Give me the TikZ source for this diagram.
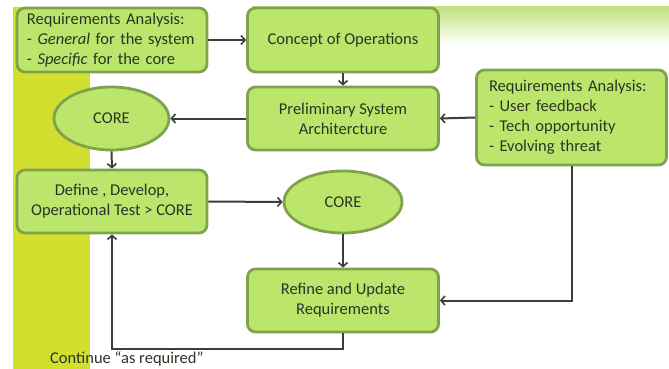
\documentclass[tikz,border=0pt]{standalone}
\usepackage{fontspec}
\setmainfont{Carlito}
\usetikzlibrary{shapes.geometric,arrows.meta}
\definecolor{boxfill}{HTML}{BCE56B}
\definecolor{boxline}{HTML}{7FA24C}
\definecolor{barcol}{HTML}{D3DF2F}
\definecolor{bandcol}{HTML}{C2E27F}
\definecolor{txtcol}{HTML}{2B3526}
\definecolor{arrcol}{HTML}{3A3F38}
\tikzset{
  txtfont/.style={font=\fontsize{16.5}{20}\selectfont},
  box/.style={draw=boxline, line width=2.8pt, fill=boxfill, rounded corners=8pt,
    minimum width=190pt, minimum height=63pt, inner sep=0pt, align=center,
    text=txtcol, txtfont},
  listbox/.style={box, align=left, inner xsep=10pt},
  coreell/.style={ellipse, draw=boxline, line width=2.8pt, fill=boxfill,
    inner sep=0pt, text=txtcol, txtfont},
  conn/.style={draw=arrcol, line width=2pt, -{Straight Barb[length=4pt,width=9pt,line width=1.6pt]}}
}
\begin{document}
\begin{tikzpicture}[x=1pt,y=-1pt]
\useasboundingbox (0,0) rectangle (669,369);
\fill[white] (0,0) rectangle (669,369);
\shade[top color=bandcol, bottom color=white] (252,7) rectangle (669,45);
\fill[barcol] (13,7) rectangle (90,369);

\node[listbox, text width=170pt, minimum height=64pt] (ra1) at (112,40)
  {Requirements Analysis:\\- \textit{General} for the system\\- \textit{Specific} for the core};
\node[box, minimum width=191pt, minimum height=64pt] (conops) at (343,40) {Concept of Operations};
\node[box, minimum width=191pt] (prelim) at (343,118.5) {Preliminary System\\Architercture};
\node[listbox, text width=165pt, minimum height=95pt] (ra2) at (571.5,117.5)
  {Requirements Analysis:\\- User feedback\\- Tech opportunity\\- Evolving threat};
\node[coreell, minimum width=115pt, minimum height=63pt] (core1) at (111.5,118.5) {CORE};
\node[box] (define) at (112,201.5) {Define , Develop,\\Operational Test > CORE};
\node[coreell, minimum width=118pt, minimum height=62pt] (core2) at (343,202) {CORE};
\node[box, minimum width=191pt] (refine) at (343,300.5) {Refine and Update\\Requirements};
\node[anchor=west, inner sep=0pt, text=txtcol, txtfont] (cont) at (50,359) {Continue “as required”};

\draw[conn] (ra1.east) -- (conops.west);
\draw[conn] (conops.south) -- (prelim.north);
\draw[conn] (ra2.west) -- (prelim.east);
\draw[conn] (prelim.west) -- (core1.east);
\draw[conn] (core1.south) -- (define.north);
\draw[conn] (define.east) -- (core2.west);
\draw[conn] (core2.south) -- (refine.north);
\draw[conn] (ra2.south) |- (refine.east);
\draw[conn] (refine.south) -- ++(0,16) -| (define.south);
\end{tikzpicture}
\end{document}
